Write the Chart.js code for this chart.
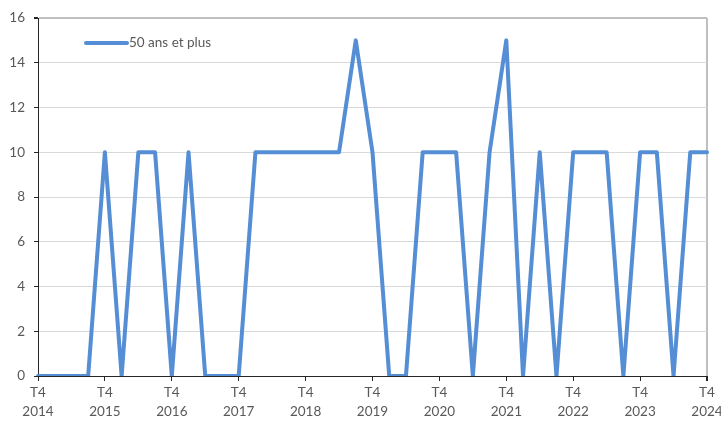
<!DOCTYPE html>
<html>
<head>
<meta charset="utf-8">
<script src="https://cdn.jsdelivr.net/npm/chart.js@4.4.1/dist/chart.umd.min.js"></script>
<style>
  html, body { margin: 0; padding: 0; background: #fff; }
  #wrap { width: 721px; height: 423px; position: relative; }
</style>
</head>
<body>
<div id="wrap"><canvas id="chart"></canvas></div>
<script>
// quarters T4 2014 .. T4 2024, only T4 gets a label
var years = ['2014','2015','2016','2017','2018','2019','2020','2021','2022','2023','2024'];
var quarters = [];
for (var q = 0; q <= 40; q++) {
  quarters.push(q % 4 === 0 ? ['T4', years[q / 4]] : '');
}

var seriesLabel = '50 ans et plus';
var values = [
  0, 0, 0, 0, 10, 0, 10, 10, 0, 10,
  0, 0, 0, 10, 10, 10, 10, 10, 10, 15,
  10, 0, 0, 10, 10, 10, 0, 10, 15, 0,
  10, 0, 10, 10, 10, 0, 10, 10, 0, 10,
  10
];
var yTicks = [0, 2, 4, 6, 8, 10, 12, 14, 16];

var lineColor = 'rgb(85, 142, 213)';
var textColor = '#595959';
var axisColor = '#262626';

// legend drawn inside the plot area, like the original
var innerLegend = {
  id: 'innerLegend',
  afterDraw: function(chart) {
    var c = chart.ctx;
    var a = chart.chartArea;
    var ds = chart.data.datasets[0];
    var x = a.left + 48, y = a.top + 25;
    c.save();
    c.strokeStyle = ds.borderColor;
    c.lineWidth = 4;
    c.lineCap = 'round';
    c.beginPath();
    c.moveTo(x, y);
    c.lineTo(x + 41, y);
    c.stroke();
    c.fillStyle = textColor;
    c.font = '13.5px Lato';
    c.textBaseline = 'middle';
    c.fillText(ds.label, x + 43, y);
    c.restore();
  }
};

var ctx = document.getElementById('chart').getContext('2d');
var chart = new Chart(ctx, {
  type: 'line',
  data: {
    labels: quarters,
    datasets: [{
      label: seriesLabel,
      data: values,
      fill: false,
      borderColor: lineColor,
      borderWidth: 4,
      tension: 0,
      pointRadius: 0,
      borderJoinStyle: 'round',
      borderCapStyle: 'round'
    }]
  },
  plugins: [innerLegend],
  options: {
    responsive: true,
    maintainAspectRatio: false,
    animation: false,
    layout: {
      padding: { left: 0, right: 14, top: 18, bottom: 0 }
    },
    plugins: {
      legend: { display: false },
      tooltip: { enabled: false }
    },
    scales: {
      x: {
        type: 'category',
        offset: false,
        afterFit: function(scale) {
          scale.height = 47;
          scale.paddingLeft = 0;
          scale.paddingRight = 0;
        },
        border: { color: axisColor, width: 1 },
        grid: {
          drawOnChartArea: true,
          drawTicks: true,
          tickLength: 5,
          lineWidth: function(c) { return c.index === 40 ? 2 : 1; },
          color: function(c) { return c.index === 40 ? '#bfbfbf' : 'rgba(0,0,0,0)'; },
          tickColor: function(c) { return c.index % 4 === 0 ? axisColor : 'rgba(0,0,0,0)'; }
        },
        ticks: {
          autoSkip: false,
          maxRotation: 0,
          padding: 3,
          color: textColor,
          font: { family: 'Lato', size: 13.5, lineHeight: 1.35 }
        }
      },
      y: {
        min: 0,
        max: 16,
        afterFit: function(scale) { scale.width = 38; },
        afterBuildTicks: function(scale) {
          scale.ticks = yTicks.map(function(v) { return { value: v }; });
        },
        border: { color: axisColor, width: 1 },
        grid: {
          color: function(c) { return c.tick && c.tick.value === 16 ? '#bfbfbf' : '#d9d9d9'; },
          lineWidth: function(c) { return c.tick && c.tick.value === 16 ? 2 : 1; },
          tickLength: 4,
          tickColor: axisColor
        },
        ticks: {
          padding: 9,
          color: textColor,
          font: { family: 'Lato', size: 13.5 }
        }
      }
    }
  }
});
</script>
</body>
</html>
